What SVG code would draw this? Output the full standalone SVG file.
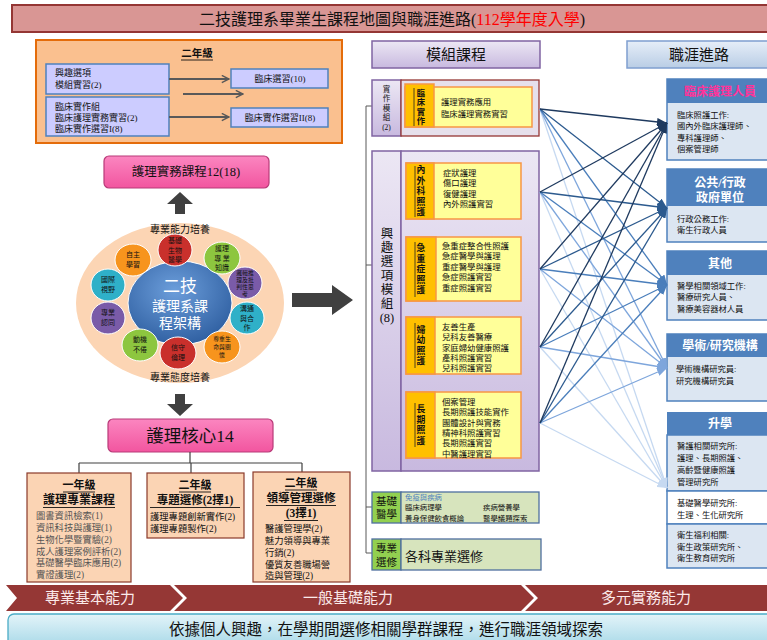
<svg xmlns="http://www.w3.org/2000/svg" width="767" height="640" viewBox="0 0 767 640">
<style>
text{font-family:"Liberation Serif","Noto Sans CJK TC","Noto Sans CJK JP",serif;fill:#111;dominant-baseline:central}
.c{text-anchor:middle}
.b{font-weight:bold}
.s9{font-size:9px}
.s8{font-size:7.5px}
.s95{font-size:9.3px}
.lav{fill:#ccccff;stroke:#4f81bd;stroke-width:1.5}
.gar{stroke:#595959;stroke-width:2;fill:none}
.peach{fill:#fbd4b4;stroke:#8b3a2a;stroke-width:1.2}
.side{fill:url(#gLav);stroke:#8064a2;stroke-width:1.5}
.org{fill:#ffc000;stroke:#f79646;stroke-width:1.5}
.yel{fill:#ffff99;stroke:#f79646;stroke-width:1.5}
.vt{font-size:8.8px;font-weight:bold;text-anchor:middle}
.vt2{font-size:8.3px;font-weight:bold;text-anchor:middle}
.it{font-size:8.4px}
.ch{fill:#4f81bd}
.cb{fill:#dce6f2;stroke:#4f81bd;stroke-width:1.5}
.ct{font-size:12px;font-weight:bold;fill:#fff;text-anchor:middle}
.cx{font-size:8.3px}
.cir{stroke:#fff;stroke-width:1}
.st{font-size:7px;text-anchor:middle}
.st6{font-size:5.8px;text-anchor:middle}
.chev{fill:#953735}
.cvt{font-size:15px;fill:#fbeaea;text-anchor:middle}
.tree{stroke:#404040;stroke-width:1.2;fill:none}
.ul{stroke:#111;stroke-width:0.9}
</style>
<defs>
<linearGradient id="gLav" x1="0" y1="0" x2="0" y2="1"><stop offset="0" stop-color="#ece7f4"/><stop offset="1" stop-color="#c8b9df"/></linearGradient>
<linearGradient id="gBlueH" x1="0" y1="0" x2="0" y2="1"><stop offset="0" stop-color="#e6eef8"/><stop offset="1" stop-color="#b9cde5"/></linearGradient>
<linearGradient id="gCyan" x1="0" y1="0" x2="0" y2="1"><stop offset="0" stop-color="#e3f4f9"/><stop offset="1" stop-color="#a9d9e8"/></linearGradient>
<radialGradient id="gCore" cx="0.45" cy="0.35" r="0.7"><stop offset="0" stop-color="#6c9edb"/><stop offset="1" stop-color="#2c5c9e"/></radialGradient>
<linearGradient id="gPink" x1="0" y1="0" x2="0" y2="1"><stop offset="0" stop-color="#fb86c0"/><stop offset="1" stop-color="#f2559f"/></linearGradient>
<marker id="mg" viewBox="0 0 10 10" refX="9" refY="5" markerWidth="9" markerHeight="9" markerUnits="userSpaceOnUse" orient="auto"><path d="M1,1 L9,5 L1,9" fill="none" stroke="#595959" stroke-width="1.6"/></marker>
<marker id="m1" viewBox="0 0 10 8" refX="10" refY="4" markerWidth="10" markerHeight="8" markerUnits="userSpaceOnUse" orient="auto"><path d="M0,0 L10,4 L0,8 z" fill="#1f3a5f"/></marker>
<marker id="m2" viewBox="0 0 10 8" refX="10" refY="4" markerWidth="10" markerHeight="8" markerUnits="userSpaceOnUse" orient="auto"><path d="M0,0 L10,4 L0,8 z" fill="#2c5a8e"/></marker>
<marker id="m3" viewBox="0 0 10 8" refX="10" refY="4" markerWidth="10" markerHeight="8" markerUnits="userSpaceOnUse" orient="auto"><path d="M0,0 L10,4 L0,8 z" fill="#4a7ebb"/></marker>
<marker id="m4" viewBox="0 0 10 8" refX="10" refY="4" markerWidth="10" markerHeight="8" markerUnits="userSpaceOnUse" orient="auto"><path d="M0,0 L10,4 L0,8 z" fill="#7ea6dc"/></marker>
<marker id="m5" viewBox="0 0 10 8" refX="10" refY="4" markerWidth="10" markerHeight="8" markerUnits="userSpaceOnUse" orient="auto"><path d="M0,0 L10,4 L0,8 z" fill="#c6d9f1"/></marker>
</defs>
<rect width="767" height="640" fill="#fff"/>

<g id="title">
<rect x="12" y="5" width="760" height="27" fill="#d99694" stroke="#943634" stroke-width="2"/>
<text x="392" y="19" class="c" font-size="16">二技護理系畢業生課程地圖與職涯進路(<tspan fill="#ff0000">112學年度入學</tspan>)</text>
</g>

<g id="year2-clinical">
<rect x="36" y="40" width="306" height="103" fill="#fac08f" stroke="#e46c0a" stroke-width="2"/>
<text x="197" y="53" class="c b" font-size="10.5">二年級</text>
<line x1="181" y1="60" x2="213" y2="60" class="ul"/>
<rect x="46" y="64" width="123" height="30" class="lav"/>
<text x="55" y="73" class="s9">興趣選項</text>
<text x="55" y="85" class="s9">模組實習(2)</text>
<rect x="46" y="97" width="123" height="39" class="lav"/>
<text x="55" y="106.5" class="s9">臨床實作組</text>
<text x="55" y="117.5" class="s9">臨床護理實務實習(2)</text>
<text x="55" y="128.5" class="s9">臨床實作選習I(8)</text>
<rect x="231" y="69" width="97" height="19" class="lav"/>
<text x="280" y="79" class="c s9">臨床選習(10)</text>
<rect x="231" y="108" width="97" height="19" class="lav"/>
<text x="280" y="118" class="c s9">臨床實作選習II(8)</text>
<line x1="169" y1="79" x2="229" y2="79" class="gar" marker-end="url(#mg)"/>
<line x1="183" y1="94" x2="243" y2="94" class="gar" marker-end="url(#mg)"/>
<line x1="169" y1="117" x2="229" y2="117" class="gar" marker-end="url(#mg)"/>
</g>

<g id="practice-course">
<rect x="104" y="156" width="165" height="32" rx="5" fill="url(#gPink)" stroke="#b83a78" stroke-width="1.2"/>
<text x="186" y="172" class="c" font-size="12.5">護理實務課程12(18)</text>
</g>

<g id="block-arrows" fill="#404040">
<polygon points="180,192 193,204 185,204 185,214 175,214 175,204 167,204"/>
<polygon points="175,394 185,394 185,404 193,404 180,416 167,404 175,404"/>
<polygon points="292,293 332,293 332,285 353,300 332,315 332,307 292,307"/>
</g>

<g id="framework">
<ellipse cx="180" cy="303" rx="104" ry="80" fill="#fcd5b4"/>
<text x="180" y="229.5" class="c" font-size="10">專業能力培養</text>
<text x="180" y="377" class="c" font-size="10">專業態度培養</text>
<ellipse cx="180" cy="303" rx="52" ry="42" fill="url(#gCore)" stroke="#fff" stroke-width="1"/>
<text x="180" y="286" class="c" font-size="17" style="fill:#fff">二技</text>
<text x="180" y="306" class="c" font-size="14" style="fill:#fff">護理系課</text>
<text x="180" y="323" class="c" font-size="14" style="fill:#fff">程架構</text>

<ellipse cx="175" cy="250" rx="17" ry="16" fill="#c9302c" class="cir"/>
<text x="175" y="241" class="st">基礎</text><text x="175" y="250.5" class="st">生物</text><text x="175" y="260" class="st">醫學</text>
<ellipse cx="222" cy="258" rx="18" ry="16" fill="#8dc63f" class="cir"/>
<text x="222" y="249" class="st">護理</text><text x="222" y="258.5" class="st">專 業</text><text x="222" y="268" class="st">知識</text>
<ellipse cx="245" cy="283" rx="17" ry="16" fill="#7a5ba8" class="cir"/>
<text x="245" y="272.5" class="st6">邏輯推</text><text x="245" y="279.5" class="st6">理及批</text><text x="245" y="286.5" class="st6">判性思</text><text x="245" y="293.5" class="st6">考</text>
<ellipse cx="247" cy="318" rx="17" ry="16" fill="#2fb0c8" class="cir"/>
<text x="247" y="309" class="st">溝通</text><text x="247" y="318.5" class="st">與合</text><text x="247" y="328" class="st">作</text>
<ellipse cx="222" cy="347" rx="18" ry="16" fill="#f7941d" class="cir"/>
<text x="222" y="339" class="st6" font-size="6">尊重生</text><text x="222" y="347" class="st6" font-size="6">命與關</text><text x="222" y="355" class="st6" font-size="6">懷</text>
<ellipse cx="178" cy="353" rx="18" ry="16" fill="#c9302c" class="cir"/>
<text x="178" y="348" class="st">信守</text><text x="178" y="358" class="st">倫理</text>
<ellipse cx="140" cy="345" rx="18" ry="16" fill="#8dc63f" class="cir"/>
<text x="140" y="340" class="st">動機</text><text x="140" y="350" class="st">不倦</text>
<ellipse cx="108" cy="318" rx="17" ry="16" fill="#7a5ba8" class="cir"/>
<text x="108" y="313" class="st">專業</text><text x="108" y="323" class="st">認同</text>
<ellipse cx="108" cy="285" rx="17" ry="16" fill="#2fb0c8" class="cir"/>
<text x="108" y="280" class="st">國際</text><text x="108" y="290" class="st">視野</text>
<ellipse cx="133" cy="260" rx="18" ry="16" fill="#f7941d" class="cir"/>
<text x="133" y="255" class="st">自主</text><text x="133" y="265" class="st">學習</text>
</g>

<g id="core">
<rect x="108" y="419" width="165" height="33" rx="5" fill="url(#gPink)" stroke="#b83a78" stroke-width="1.2"/>
<text x="190" y="436" class="c" font-size="17.5">護理核心14</text>
</g>

<g id="tree-lines">
<path d="M190,452 V463 M79,463 H302 M79,463 V473 M191,463 V473 M302,463 V472" class="tree"/>
</g>

<g id="year1-core">
<rect x="27" y="473" width="104" height="109" class="peach"/>
<text x="79" y="485" class="c b" font-size="11">一年級</text>
<line x1="63" y1="492" x2="95" y2="492" class="ul"/>
<text x="79" y="500" class="c b" font-size="12">護理專業課程</text>
<line x1="43" y1="507.5" x2="115" y2="507.5" class="ul"/>
<text x="36" y="516" class="s95" style="fill:#555">圖書資訊檢索(1)</text>
<text x="36" y="528" class="s95" style="fill:#555">資訊科技與護理(1)</text>
<text x="36" y="539.5" class="s95" style="fill:#555">生物化學暨實驗(2)</text>
<text x="36" y="551.5" class="s95" style="fill:#555">成人護理案例評析(2)</text>
<text x="36" y="563" class="s95" style="fill:#555">基礎醫學臨床應用(2)</text>
<text x="36" y="575" class="s95" style="fill:#555">實證護理(2)</text>
</g>

<g id="year2-project">
<rect x="147" y="473" width="97" height="65" class="peach"/>
<text x="195" y="485" class="c b" font-size="11">二年級</text>
<line x1="179" y1="492" x2="211" y2="492" class="ul"/>
<text x="195" y="500" class="c b" font-size="11.5">專題選修(2擇1)</text>
<line x1="150" y1="507.5" x2="240" y2="507.5" class="ul"/>
<text x="150" y="517" class="s95">護理專題創新實作(2)</text>
<text x="150" y="528.5" class="s95">護理專題製作(2)</text>
</g>

<g id="year2-leadership">
<rect x="253" y="472" width="97" height="110" class="peach"/>
<text x="301" y="483" class="c b" font-size="11">二年級</text>
<line x1="285" y1="490" x2="317" y2="490" class="ul"/>
<text x="301" y="498" class="c b" font-size="11.5">領導管理選修</text>
<line x1="266" y1="505.5" x2="336" y2="505.5" class="ul"/>
<text x="301" y="513" class="c b" font-size="11.5">(3擇1)</text>
<line x1="284" y1="520.5" x2="318" y2="520.5" class="ul"/>
<text x="265" y="529" class="s95">醫護管理學(2)</text>
<text x="265" y="541" class="s95">魅力領導與專業</text>
<text x="265" y="552.5" class="s95">行銷(2)</text>
<text x="265" y="564.5" class="s95">優質友善職場營</text>
<text x="265" y="576" class="s95">造與管理(2)</text>
</g>

<g id="module-header">
<rect x="372" y="41" width="168" height="27" fill="url(#gLav)" stroke="#8064a2" stroke-width="1.5"/>
<text x="456" y="55" class="c" font-size="15">模組課程</text>
</g>

<g id="bracket">
<path d="M366,106 V553 M366,106 H372 M366,265 H372 M366,507 H372 M366,553 H372" fill="none" stroke="#595959" stroke-width="1"/>
</g>

<g id="practice-module">
<rect x="372" y="80" width="29" height="56" class="side"/>
<text x="386.5" y="89" class="c s8">實</text>
<text x="386.5" y="98.5" class="c s8">作</text>
<text x="386.5" y="108" class="c s8">模</text>
<text x="386.5" y="117.5" class="c s8">組</text>
<text x="386.5" y="127" class="c s8">(2)</text>
<rect x="401" y="80" width="138" height="56" fill="#e6e0ec" stroke="#953735" stroke-width="1.3"/>
<rect x="405" y="87" width="127" height="40" class="yel"/>
<rect x="405" y="84" width="29" height="43" class="org"/>
<line x1="414" y1="88" x2="414" y2="126" stroke="#222" stroke-width="0.8"/>
<text x="421" y="93" class="vt2">臨</text>
<text x="421" y="102.5" class="vt2">床</text>
<text x="421" y="112" class="vt2">實</text>
<text x="421" y="121.5" class="vt2">作</text>
<text x="441" y="102" class="it">護理實務應用</text>
<text x="441" y="114" class="it">臨床護理實務實習</text>
</g>

<g id="interest-module">
<rect x="372" y="151" width="29" height="320" class="side"/>
<text x="387" y="234" class="c" font-size="12.5">興</text>
<text x="387" y="248" class="c" font-size="12.5">趣</text>
<text x="387" y="262" class="c" font-size="12.5">選</text>
<text x="387" y="276" class="c" font-size="12.5">項</text>
<text x="387" y="290" class="c" font-size="12.5">模</text>
<text x="387" y="304" class="c" font-size="12.5">組</text>
<text x="387" y="318" class="c" font-size="12.5">(8)</text>
<rect x="401" y="151" width="138" height="320" fill="url(#gLav)" stroke="#8064a2" stroke-width="1.5"/>
</g>

<g id="med-surg">
<rect x="406" y="163" width="115" height="56" class="yel"/>
<rect x="406" y="163" width="28" height="56" class="org"/>
<line x1="415" y1="166" x2="415" y2="217" stroke="#222" stroke-width="0.8"/>
<text x="421" y="170" class="vt">內</text><text x="421" y="180.5" class="vt">外</text><text x="421" y="191" class="vt">科</text><text x="421" y="201.5" class="vt">照</text><text x="421" y="212" class="vt">護</text>
<text x="443" y="173" class="it">症狀護理</text>
<text x="443" y="183.5" class="it">傷口護理</text>
<text x="443" y="194" class="it">復健護理</text>
<text x="443" y="204.5" class="it">內外照護實習</text>
</g>

<g id="critical">
<rect x="406" y="237" width="115" height="64" class="yel"/>
<rect x="406" y="237" width="30" height="64" class="org"/>
<line x1="415" y1="242" x2="415" y2="297" stroke="#222" stroke-width="0.8"/>
<text x="421" y="248" class="vt">急</text><text x="421" y="258.5" class="vt">重</text><text x="421" y="269" class="vt">症</text><text x="421" y="279.5" class="vt">照</text><text x="421" y="290" class="vt">護</text>
<text x="442" y="246" class="it">急重症整合性照護</text>
<text x="442" y="256.5" class="it">急症醫學與護理</text>
<text x="442" y="267" class="it">重症醫學與護理</text>
<text x="442" y="277.5" class="it">急症照護實習</text>
<text x="442" y="288" class="it">重症照護實習</text>
</g>

<g id="maternal-child">
<rect x="406" y="317" width="115" height="57" class="yel"/>
<rect x="406" y="317" width="29" height="57" class="org"/>
<line x1="415" y1="323" x2="415" y2="368" stroke="#222" stroke-width="0.8"/>
<text x="421" y="329.8" class="vt">婦</text><text x="421" y="340.3" class="vt">幼</text><text x="421" y="350.8" class="vt">照</text><text x="421" y="361.3" class="vt">護</text>
<text x="442" y="327.5" class="it">友善生產</text>
<text x="442" y="337.8" class="it">兒科友善醫療</text>
<text x="442" y="348.1" class="it">家庭婦幼健康照護</text>
<text x="442" y="358.4" class="it">產科照護實習</text>
<text x="442" y="368.7" class="it">兒科照護實習</text>
</g>

<g id="long-term">
<rect x="406" y="392" width="115" height="66" class="yel"/>
<rect x="406" y="392" width="29" height="66" class="org"/>
<line x1="415" y1="403" x2="415" y2="447" stroke="#222" stroke-width="0.8"/>
<text x="421" y="409.3" class="vt">長</text><text x="421" y="419.8" class="vt">期</text><text x="421" y="430.3" class="vt">照</text><text x="421" y="440.8" class="vt">護</text>
<text x="442" y="402.5" class="it">個案管理</text>
<text x="442" y="412.8" class="it">長期照護技能實作</text>
<text x="442" y="423.1" class="it">團體設計與實務</text>
<text x="442" y="433.4" class="it">精神科照護實習</text>
<text x="442" y="443.7" class="it">長期照護實習</text>
<text x="442" y="454" class="it">中醫護理實習</text>
</g>

<g id="basic-med">
<rect x="372" y="492" width="29" height="31" fill="#92d050" stroke="#4f6f9f" stroke-width="1.3"/>
<text x="386.5" y="501" class="c" font-size="10.5">基礎</text>
<text x="386.5" y="514" class="c" font-size="10.5">醫學</text>
<rect x="401" y="492" width="138" height="31" fill="#d7e4bd" stroke="#4f6f9f" stroke-width="1.3"/>
<text x="405" y="497.5" font-size="7.4" style="fill:#4f81bd">免疫與疾病</text>
<text x="405" y="507.8" font-size="7.4">臨床病理學</text>
<text x="483" y="507.8" font-size="7.4">疾病營養學</text>
<text x="405" y="518" font-size="7.4">養身保健飲食概論</text>
<text x="483" y="518" font-size="7.4">醫學議題探索</text>
</g>

<g id="prof-elective">
<rect x="372" y="539" width="29" height="31" fill="#92d050" stroke="#4f6f9f" stroke-width="1.3"/>
<text x="386.5" y="548" class="c" font-size="10.5">專業</text>
<text x="386.5" y="562" class="c" font-size="10.5">選修</text>
<rect x="401" y="539" width="140" height="31" fill="#d7e4bd" stroke="#4f6f9f" stroke-width="1.3"/>
<text x="405" y="556" font-size="13">各科專業選修</text>
</g>

<g id="career-header">
<rect x="627" y="41" width="145" height="27" fill="url(#gBlueH)" stroke="#7f9fcf" stroke-width="1.5"/>
<text x="699" y="55" class="c" font-size="15">職涯進路</text>
</g>

<g id="career-clinical">
<rect x="667" y="79" width="105" height="81" class="cb"/>
<rect x="667" y="79" width="105" height="24" class="ch"/>
<text x="720" y="92" class="ct" style="fill:#ff3399">臨床護理人員</text>
<text x="677" y="115" class="cx">臨床照護工作:</text>
<text x="677" y="126.5" class="cx">國內外臨床護理師、</text>
<text x="677" y="138" class="cx">專科護理師、</text>
<text x="677" y="149.5" class="cx">個案管理師</text>
</g>

<g id="career-public">
<rect x="667" y="169" width="105" height="73" class="cb"/>
<rect x="667" y="169" width="105" height="37" class="ch"/>
<text x="720" y="183" class="ct">公共/行政</text>
<text x="720" y="198" class="ct">政府單位</text>
<text x="677" y="219" class="cx">行政公務工作:</text>
<text x="677" y="230.5" class="cx">衛生行政人員</text>
</g>

<g id="career-other">
<rect x="667" y="251" width="105" height="69" class="cb"/>
<rect x="667" y="251" width="105" height="24" class="ch"/>
<text x="720" y="264" class="ct">其他</text>
<text x="677" y="286" class="cx">醫學相關領域工作:</text>
<text x="677" y="297.5" class="cx">醫療研究人員、</text>
<text x="677" y="309" class="cx">醫療美容器材人員</text>
</g>

<g id="career-academic">
<rect x="667" y="334" width="105" height="67" class="cb"/>
<rect x="667" y="334" width="105" height="23" class="ch"/>
<text x="720" y="346" class="ct">學術/研究機構</text>
<text x="676" y="369" class="cx">學術機構研究員:</text>
<text x="676" y="381" class="cx">研究機構研究員</text>
</g>

<g id="career-study">
<rect x="667" y="412" width="105" height="23" class="ch"/>
<text x="720" y="424" class="ct">升學</text>
<rect x="667" y="435" width="105" height="56" class="cb"/>
<rect x="667" y="491" width="105" height="33" fill="#fff" stroke="#4f81bd" stroke-width="1.5"/>
<rect x="667" y="524" width="105" height="44" class="cb"/>
<text x="677" y="446" class="cx">醫護相關研究所:</text>
<text x="677" y="458" class="cx">護理、長期照護、</text>
<text x="677" y="470" class="cx">高齡暨健康照護</text>
<text x="677" y="482" class="cx">管理研究所</text>
<text x="677" y="503" class="cx">基礎醫學研究所:</text>
<text x="677" y="515" class="cx">生理、生化研究所</text>
<text x="677" y="535.5" class="cx">衛生福利相關:</text>
<text x="677" y="547" class="cx">衛生政策研究所、</text>
<text x="677" y="558.5" class="cx">衛生教育研究所</text>
</g>

<g id="connectors" fill="none" stroke-width="1.3">
<g stroke="#c6d9f1" marker-end="url(#m5)">
<line x1="540" y1="109" x2="667" y2="488"/><line x1="540" y1="192" x2="667" y2="488"/><line x1="540" y1="269" x2="667" y2="488"/><line x1="540" y1="347" x2="667" y2="488"/><line x1="540" y1="423" x2="667" y2="488"/>
</g>
<g stroke="#7ea6dc" marker-end="url(#m4)">
<line x1="540" y1="109" x2="667" y2="368"/><line x1="540" y1="192" x2="667" y2="368"/><line x1="540" y1="269" x2="667" y2="368"/><line x1="540" y1="347" x2="667" y2="368"/><line x1="540" y1="423" x2="667" y2="368"/>
</g>
<g stroke="#4a7ebb" marker-end="url(#m3)">
<line x1="540" y1="109" x2="667" y2="285"/><line x1="540" y1="192" x2="667" y2="285"/><line x1="540" y1="269" x2="667" y2="285"/><line x1="540" y1="347" x2="667" y2="285"/><line x1="540" y1="423" x2="667" y2="285"/>
</g>
<g stroke="#2c5a8e" marker-end="url(#m2)">
<line x1="540" y1="109" x2="667" y2="208"/><line x1="540" y1="192" x2="667" y2="208"/><line x1="540" y1="269" x2="667" y2="208"/><line x1="540" y1="347" x2="667" y2="208"/><line x1="540" y1="423" x2="667" y2="208"/>
</g>
<g stroke="#1f3a5f" marker-end="url(#m1)">
<line x1="540" y1="109" x2="667" y2="123"/><line x1="540" y1="192" x2="667" y2="123"/><line x1="540" y1="269" x2="667" y2="123"/><line x1="540" y1="347" x2="667" y2="123"/><line x1="540" y1="423" x2="667" y2="123"/>
</g>
</g>

<g id="ability-band">
<polygon class="chev" points="6,585 170,585 183,598 170,611 6,611 17,598"/>
<polygon class="chev" points="174,585 521,585 534,598 521,611 174,611 187,598"/>
<polygon class="chev" points="525,585 772,585 772,611 525,611 538,598"/>
<text x="90" y="598" class="cvt">專業基本能力</text>
<text x="348" y="598" class="cvt">一般基礎能力</text>
<text x="646" y="598" class="cvt">多元實務能力</text>
</g>

<g id="footer">
<rect x="8" y="614" width="775" height="32" rx="6" fill="url(#gCyan)" stroke="#4bacc6" stroke-width="1.3"/>
<text x="386" y="629" class="c" font-size="15.5">依據個人興趣，在學期間選修相關學群課程，進行職涯領域探索</text>
</g>
</svg>
